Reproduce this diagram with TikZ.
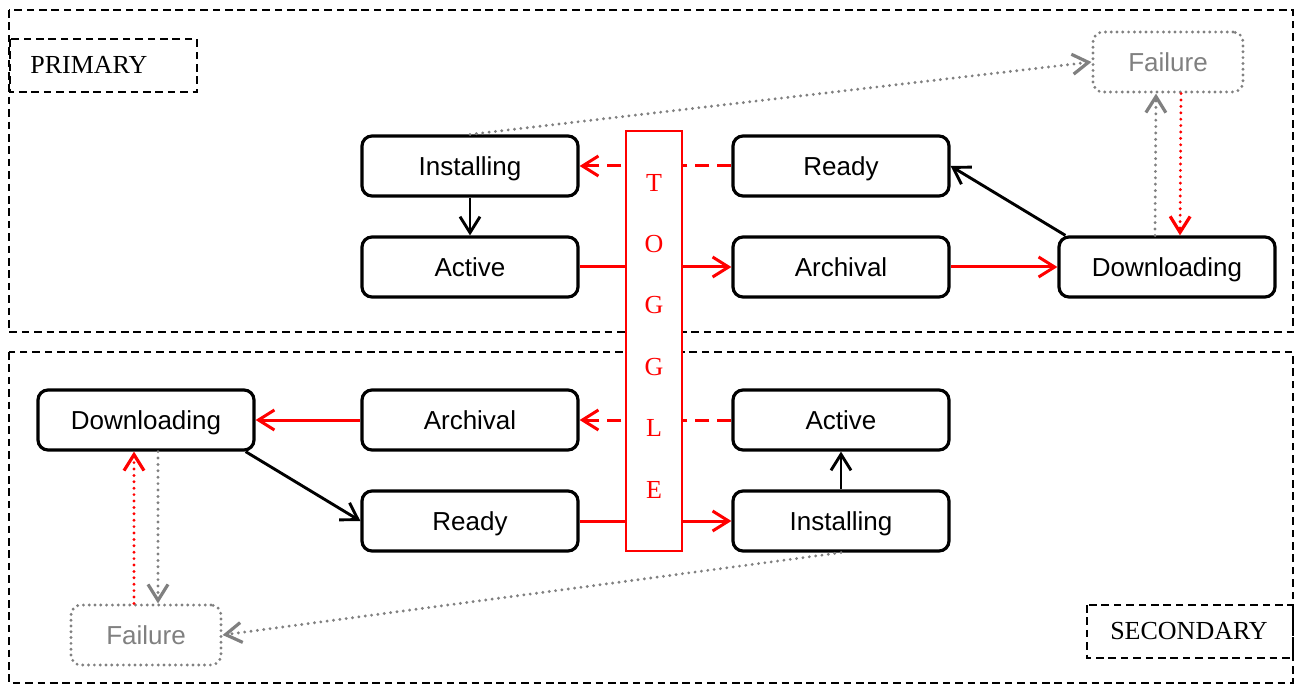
\documentclass[tikz,border=0pt]{standalone}
\usepackage{fontspec}
\setmainfont{Liberation Serif}
\setsansfont{Liberation Sans}
\usetikzlibrary{arrows.meta}
\definecolor{fgray}{RGB}{128,128,128}
\definecolor{tred}{RGB}{255,0,0}
\begin{document}
\begin{tikzpicture}[x=0.5pt,y=-0.5pt,
  state/.style={draw, line width=1.6pt, rounded corners=5pt, minimum width=108pt, minimum height=30pt, inner sep=0pt, text height=9.4pt, text depth=0pt, font=\sffamily\fontsize{13}{15}\selectfont},
  failbox/.style={draw=fgray, text=fgray, line width=1.6pt, dash pattern=on 0pt off 2.9pt, line cap=round, rounded corners=5pt, minimum width=75pt, minimum height=30pt, inner sep=0pt, text height=9.4pt, text depth=0pt, font=\sffamily\fontsize{13}{15}\selectfont},
  region/.style={draw, line width=0.9pt, dash pattern=on 3.8pt off 2.4pt},
  lbl/.style={font=\fontsize{13}{15}\selectfont, inner sep=0pt},
  conn/.style={line width=1.45pt, -{Straight Barb[length=8pt,width=10pt]}},
  redc/.style={conn, draw=tred, line width=1.5pt},
  reddash/.style={redc, dash pattern=on 7pt off 4pt},
  dotc/.style={conn, line width=1.6pt, dash pattern=on 0pt off 3.2pt, line cap=round},
  graydot/.style={dotc, draw=fgray},
  reddot/.style={dotc, draw=tred},
  togglebox/.style={draw=tred, fill=white, line width=0.6pt, minimum width=28pt, minimum height=210pt, inner sep=0pt},
]
\useasboundingbox (0,0) rectangle (1295,684);

% regions
\draw[region] (9,10) rectangle (1293,332);
\draw[region] (9,352) rectangle (1293,683);
\draw[region] (10,39) rectangle (197,92);
\node[lbl, anchor=west] (plabel) at (30,65) {PRIMARY};
\draw[region] (1087,605) rectangle (1293,658);
\node[lbl] (slabel) at (1189,631) {SECONDARY};

% primary states
\node[state] (pInst) at (470,166) {Installing};
\node[state] (pAct) at (470,267) {Active};
\node[state] (pReady) at (841,166) {Ready};
\node[state] (pArch) at (841,267) {Archival};
\node[state] (pDown) at (1167,267) {Downloading};
\node[failbox] (pFail) at (1168,62) {Failure};

% secondary states
\node[state] (sDown) at (146,420) {Downloading};
\node[state] (sArch) at (470,420) {Archival};
\node[state] (sAct) at (841,420) {Active};
\node[state] (sReady) at (470,521) {Ready};
\node[state] (sInst) at (841,521) {Installing};
\node[failbox] (sFail) at (146,635) {Failure};

% primary connectors
\draw[reddash] (pReady.west) -- (pInst.east);
\draw[redc] (pAct.east) -- (pArch.west);
\draw[redc] (pArch.east) -- (pDown.west);
\draw[conn] ([xshift=4pt]pDown.north west) -- (pReady.east);
\draw[conn] (pInst.south) -- (pAct.north);
\draw[graydot] (pInst.north) -- (pFail.west);
\draw[graydot] ([xshift=-6pt]pDown.north) -- ([xshift=-6pt]pFail.south);
\draw[reddot] ([xshift=6.5pt]pFail.south) -- ([xshift=6.5pt]pDown.north);

% secondary connectors
\draw[reddash] (sAct.west) -- (sArch.east);
\draw[redc] (sArch.west) -- (sDown.east);
\draw[conn] ([xshift=-5pt]sDown.south east) -- (sReady.west);
\draw[redc] (sReady.east) -- (sInst.west);
\draw[conn] (sInst.north) -- (sAct.south);
\draw[graydot] (sInst.south) -- (sFail.east);
\draw[reddot] ([xshift=-6pt]sFail.north) -- ([xshift=-6pt]sDown.south);
\draw[graydot] ([xshift=6pt]sDown.south) -- ([xshift=6pt]sFail.north);

% toggle
\node[togglebox] (tg) at (654,341) {};
\node[font=\fontsize{13}{30.7}\selectfont, text=tred, align=center, inner sep=0pt] (tgtext) at (654,336) {T\\O\\G\\G\\L\\E};
\end{tikzpicture}
\end{document}
